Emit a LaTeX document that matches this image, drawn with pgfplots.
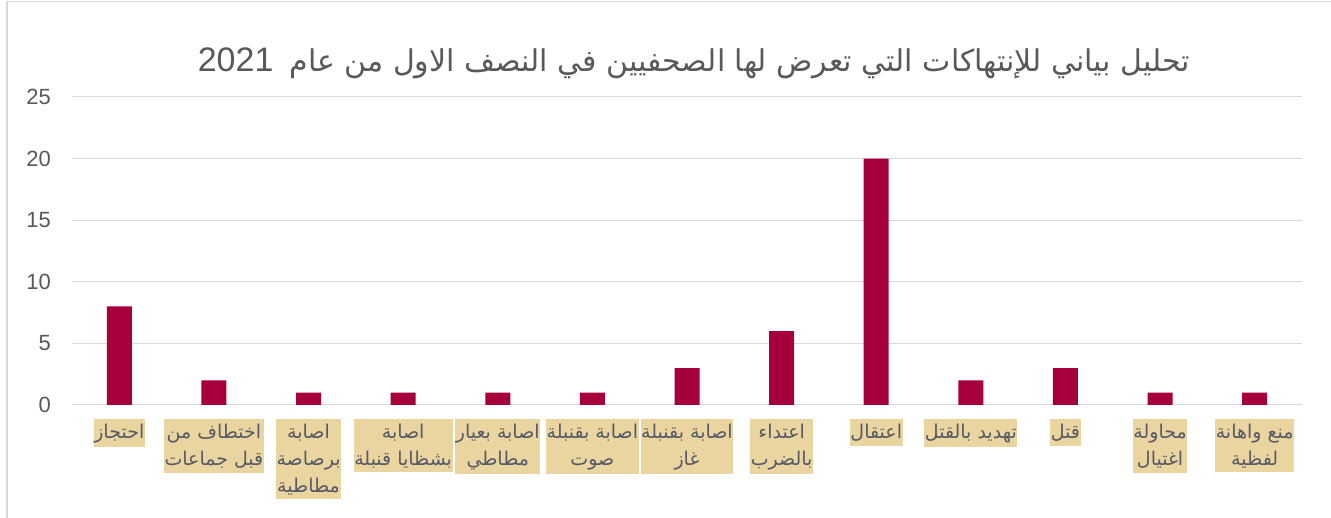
\documentclass[border=0pt]{standalone}
\usepackage{fontspec}
\setmainfont{Liberation Sans}
\newfontfamily\arabicfont[Script=Arabic]{DejaVu Sans}
\TeXXeTstate=1
\usepackage{pgfplots}
\pgfplotsset{compat=1.18}
\definecolor{barred}{RGB}{166,0,60}
\definecolor{tan}{RGB}{234,213,160}
\definecolor{txtgray}{RGB}{89,89,89}
\definecolor{lblgray}{RGB}{85,90,102}
\definecolor{gridgray}{RGB}{217,217,217}
\begin{document}
\begin{tikzpicture}
\useasboundingbox (0,0) rectangle (1331pt,518pt);
\fill[white] (0,0) rectangle (1331pt,518pt);
\draw[gridgray, line width=1.5pt] (7pt,0) -- (7pt,516.5pt) -- (1331pt,516.5pt);
\begin{axis}[
  at={(72pt,113pt)}, anchor=south west,
  width=1230pt, height=308pt, scale only axis,
  ybar, bar width=25pt,
  xmin=-0.5, xmax=12.5, ymin=0, ymax=25,
  ytick={0,5,...,25},
  xtick=data,
  xticklabels={
    {\beginR احتجاز\endR},
    {\beginR اختطاف من\endR\\\beginR قبل جماعات\endR},
    {\beginR اصابة\endR\\\beginR برصاصة\endR\\\beginR مطاطية\endR},
    {\beginR اصابة\endR\\\beginR بشظايا قنبلة\endR},
    {\beginR اصابة بعيار\endR\\\beginR مطاطي\endR},
    {\beginR اصابة بقنبلة\endR\\\beginR صوت\endR},
    {\beginR اصابة بقنبلة\endR\\\beginR غاز\endR},
    {\beginR اعتداء\endR\\\beginR بالضرب\endR},
    {\beginR اعتقال\endR},
    {\beginR تهديد بالقتل\endR},
    {\beginR قتل\endR},
    {\beginR محاولة\endR\\\beginR اغتيال\endR},
    {\beginR منع واهانة\endR\\\beginR لفظية\endR}
  },
  major tick length=0pt,
  axis line style={draw=none},
  ymajorgrids, grid style={gridgray, line width=1pt},
  /pgf/number format/assume math mode=true,
  yticklabel style={font=\fontsize{22}{26}\selectfont, text=txtgray, inner sep=0pt, anchor=east, xshift=-21pt},
  xticklabel style={font=\arabicfont\fontsize{19}{27}\selectfont, text=lblgray, fill=tan, inner xsep=0.5pt, inner ysep=4.5pt, align=center, anchor=north, yshift=-14pt},
]
\addplot[fill=barred, draw=none] coordinates {
  (0,8) (1,2) (2,1) (3,1) (4,1) (5,1) (6,3) (7,6) (8,20) (9,2) (10,3) (11,1) (12,1)
};
\end{axis}
\node[anchor=base, text=txtgray, inner sep=0pt] at (694pt,446pt)
  {{\fontsize{34}{38}\selectfont 2021}\hspace{16pt}{\arabicfont\fontsize{30}{36}\selectfont\beginR تحليل بياني للإنتهاكات التي تعرض لها الصحفيين في النصف الاول من عام\endR}};
\end{tikzpicture}
\end{document}
